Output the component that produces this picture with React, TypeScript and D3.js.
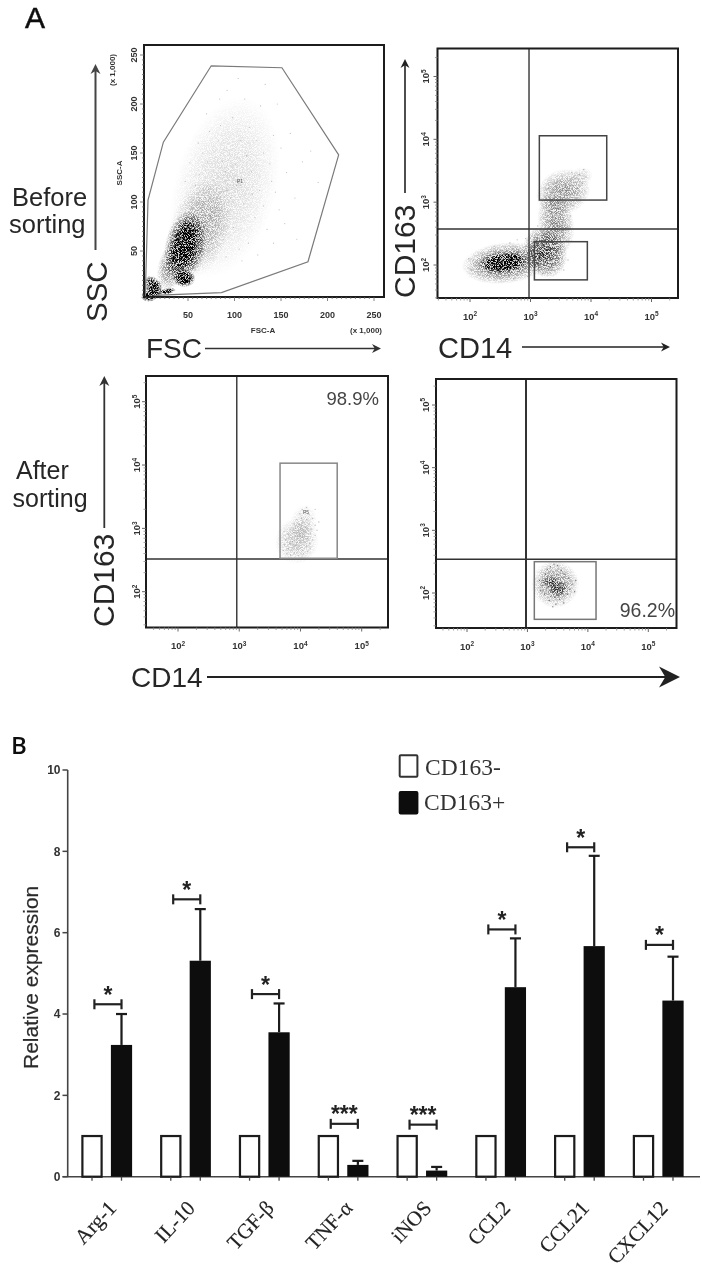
import React from "react";
import * as d3 from "d3";

// ---------- Panel B data ----------
const categories = ["Arg-1", "IL-10", "TGF-β", "TNF-α", "iNOS", "CCL2", "CCL21", "CXCL12"];
const cd163Neg = [1, 1, 1, 1, 1, 1, 1, 1];
const cd163Pos = [3.24, 5.31, 3.55, 0.29, 0.15, 4.66, 5.67, 4.33];
const cd163PosUpper = [4.0, 6.58, 4.26, 0.39, 0.24, 5.86, 7.89, 5.41];
const bracketLevel = [4.24, 6.82, 4.49, 1.3, 1.28, 6.08, 8.1, 5.7];
const stars = ["*", "*", "*", "***", "***", "*", "*", "*"];
const yTicksB = [0, 2, 4, 6, 8, 10];
const legendLabels = ["CD163-", "CD163+"];

// ---------- Panel A data ----------
const fscTicks = [50, 100, 150, 200, 250];
const sscTicks = [50, 100, 150, 200, 250];
const logDecades = [2, 3, 4, 5];
const p1Gate: [number, number][] = [[4, 3], [7, 102], [23.5, 161], [75, 239], [151, 237], [212, 148], [179, 39], [86, 7.5], [20, 5], [4, 3]];
// density blobs: cx, cy, rx, ry, rotation, strength
const p1Blobs = [
  [90, 115, 55, 95, 15, 0.1], [62, 72, 32, 52, 18, 0.2], [34, 36, 16, 28, 20, 0.38],
  [47, 55, 22, 36, 12, 0.8], [47, 58, 12, 24, 8, 1], [46, 22, 12, 9, 0, 1], [45, 22, 7, 5, 0, 0.9],
  [13, 13, 9, 13, -30, 1], [8, 4, 9, 6, 0, 1], [28, 9, 9, 3.2, -10, 1],
];
const p1Dots = [
  [62, 128], [71, 141], [58, 117], [83, 163], [66, 150], [77, 122], [90, 131], [95, 149], [69, 104], [81, 96], [74, 86], [92, 112], [103, 121], [110, 98], [118, 131], [127, 112],
  [85, 178], [98, 186], [73, 172], [61, 160], [107, 163], [116, 176], [131, 150], [140, 121], [148, 92], [122, 84], [135, 72], [99, 74], [88, 62], [105, 52], [78, 55], [115, 58],
  [142, 168], [156, 130], [165, 104], [173, 141], [128, 198], [111, 205], [92, 214], [104, 226], [84, 205], [70, 190], [52, 140], [47, 121], [56, 102], [64, 93], [72, 113], [87, 141],
  [96, 104], [83, 83], [76, 70], [68, 64], [94, 88], [101, 138], [113, 147], [124, 163], [138, 139], [150, 155], [160, 170], [119, 108], [131, 96], [144, 110], [154, 78], [167, 62],
  [142, 58], [125, 46], [108, 40], [91, 44], [190, 120], [182, 152], [146, 200], [133, 220], [104, 119], [106, 117], [102, 117], [105, 121],
];
const p2GateV = 945, p2GateH = 375;
const p2Rects = [[1400, 18200, 1080, 11400], [1160, 8700, 58, 235]];
const p2Blobs = [
  [2.58, 2.03, 0.72, 0.33, -6, 0.45], [2.55, 2.04, 0.4, 0.17, -6, 1], [3.24, 2.2, 0.36, 0.42, -20, 0.55],
  [3.42, 2.66, 0.3, 0.5, -10, 0.32], [3.54, 3.16, 0.46, 0.36, -20, 0.3], [3.85, 3.42, 0.18, 0.14, 0, 0.1],
];
const p2Dots = [
  [3.88, 3.52], [3.81, 3.44], [3.92, 3.4], [3.74, 3.38], [3.68, 3.47], [3.86, 3.3], [3.78, 3.22], [3.9, 3.18], [3.3, 3.22], [3.26, 3.05], [3.22, 2.9], [3.7, 2.95], [3.66, 2.78], [3.62, 2.6],
  [3.12, 2.62], [3.08, 2.48], [2.92, 2.42], [2.78, 2.4], [2.66, 2.35], [2.4, 2.3], [2.2, 2.18], [2.06, 2.02], [1.98, 2.1], [2.02, 1.92], [2.15, 1.84], [2.4, 1.8], [2.72, 1.78], [2.95, 1.82], [3.2, 1.86], [3.55, 1.92], [3.62, 2.08], [3.5, 2.22],
];
const p3GateV = 912, p3GateH = 329;
const p3Rect = [4640, 39800, 337, 10700];
const p3Blobs = [[3.94, 2.8, 0.36, 0.36, 10, 0.16], [4.05, 3.08, 0.22, 0.3, 10, 0.1]];
const p3Dots = [
  [3.78, 2.6], [3.84, 2.58], [3.9, 2.62], [3.97, 2.57], [4.05, 2.6], [4.12, 2.63], [3.72, 2.65], [3.8, 2.68], [3.88, 2.7], [3.95, 2.67], [4.02, 2.7], [4.1, 2.72], [4.16, 2.68], [3.74, 2.74],
  [3.83, 2.76], [3.92, 2.74], [3.99, 2.78], [4.07, 2.79], [4.15, 2.76], [3.76, 2.82], [3.85, 2.85], [3.94, 2.82], [4.03, 2.86], [4.12, 2.84], [4.2, 2.82], [3.8, 2.91], [3.89, 2.93], [3.98, 2.9],
  [4.06, 2.93], [4.16, 2.92], [4.24, 2.89], [3.83, 2.99], [3.92, 3.0], [4.0, 2.98], [4.09, 3.01], [4.18, 2.99], [4.27, 2.97], [3.9, 3.07], [3.98, 3.06], [4.06, 3.09], [4.14, 3.07], [4.24, 3.05],
  [3.94, 3.14], [4.02, 3.16], [4.1, 3.14], [4.2, 3.16], [3.99, 3.23], [4.08, 3.25], [4.14, 3.22], [4.03, 3.3], [4.1, 3.33], [4.24, 3.3], [3.73, 2.95], [4.3, 3.1], [3.96, 2.72], [4.0, 2.84], [3.87, 2.79], [4.04, 2.65],
];
const p4GateV = 946, p4GateH = 345;
const p4Rect = [1300, 13650, 38, 316];
const p4Blobs = [[3.46, 2.14, 0.4, 0.38, 0, 0.32], [3.52, 2.06, 0.17, 0.12, -15, 0.4], [3.38, 2.17, 0.16, 0.1, 10, 0.35]];
const p4Dots = [
  [3.2, 2.2], [3.24, 2.12], [3.22, 2.04], [3.28, 1.98], [3.3, 2.3], [3.33, 2.38], [3.36, 1.88], [3.38, 2.42], [3.42, 1.78], [3.44, 2.46], [3.47, 1.82], [3.5, 2.44], [3.53, 1.9], [3.56, 2.36],
  [3.6, 1.84], [3.62, 2.3], [3.66, 1.98], [3.68, 2.24], [3.7, 2.06], [3.74, 2.14], [3.78, 2.02], [3.8, 2.2], [3.29, 2.19], [3.3, 2.14], [3.27, 2.17], [3.33, 2.22], [3.36, 2.16], [3.35, 2.1], [3.4, 2.26],
  [3.43, 2.18], [3.45, 2.12], [3.47, 2.2], [3.5, 2.05], [3.52, 2.03], [3.54, 2.08], [3.49, 2.3], [3.56, 2.16], [3.59, 2.12], [3.58, 2.01], [3.42, 2.02], [3.39, 1.95], [3.45, 1.93], [3.51, 1.96],
];

// ---------- layout ----------
const SANS = "'Liberation Sans', Arial, sans-serif";
const SERIF = "'Liberation Serif', serif";

function Arrow({ x1, y1, x2, y2, color = "#222", w = 1.8, size = 8 }: any) {
  const a = Math.atan2(y2 - y1, x2 - x1);
  const deg = (a * 180) / Math.PI;
  return (
    <g>
      <line x1={x1} y1={y1} x2={x2 - Math.cos(a) * size * 0.6} y2={y2 - Math.sin(a) * size * 0.6} stroke={color} strokeWidth={w} />
      <path transform={`translate(${x2},${y2}) rotate(${deg})`} d={`M0,0 L${-size},${-size * 0.5} L${-size * 0.7},0 L${-size},${size * 0.5} Z`} fill={color} />
    </g>
  );
}

function Frame({ f, sw = 2 }: any) {
  return <rect x={f.x0} y={f.y0} width={f.x1 - f.x0} height={f.y1 - f.y0} fill="none" stroke="#1c1c1c" strokeWidth={sw} />;
}

function Blobs({ items, px, py, dx, dy }: any) {
  return (
    <g filter="url(#grain)">
      {items.map((b: number[], i: number) => (
        <ellipse key={i} cx={px(b[0])} cy={py(b[1])} rx={dx(b[2])} ry={dy(b[3])} transform={`rotate(${b[4]} ${px(b[0])} ${py(b[1])})`} fill="url(#fade)" opacity={b[5]} />
      ))}
    </g>
  );
}

function LogPlot({ f, xr, yr, gateV, gateH, gateW = 1.4, rects, rectColor, blobs, dots, dotColor, dotOp, yLab = -8 }: any) {
  const x = d3.scaleLog().domain([1e2, 1e5]).range(xr);
  const y = d3.scaleLog().domain([1e2, 1e5]).range(yr);
  const xd = (xr[1] - xr[0]) / 3, yd = (yr[0] - yr[1]) / 3;
  const minor: number[] = [];
  for (const e of [1, 2, 3, 4, 5]) for (const m of [2, 3, 4, 5, 6, 7, 8, 9]) minor.push(m * 10 ** e);
  const xMinor = minor.filter((v) => x(v) > f.x0 && x(v) < f.x1);
  const yMinor = minor.filter((v) => y(v) > f.y0 && y(v) < f.y1);
  return (
    <g>
      {blobs && <Blobs items={blobs} px={(l: number) => x(10 ** l)} py={(l: number) => y(10 ** l)} dx={(r: number) => r * xd} dy={(r: number) => r * yd} />}
      {dots.map((d: number[], i: number) => (
        <circle key={i} cx={x(10 ** d[0])} cy={y(10 ** d[1])} r={0.7} fill={dotColor} opacity={dotOp} />
      ))}
      <line x1={x(gateV)} x2={x(gateV)} y1={f.y0} y2={f.y1} stroke="#333" strokeWidth={gateW} />
      <line x1={f.x0} x2={f.x1} y1={y(gateH)} y2={y(gateH)} stroke="#333" strokeWidth={1.4} />
      {rects.map((r: number[], i: number) => (
        <rect key={i} x={x(r[0])} width={x(r[1]) - x(r[0])} y={y(r[3])} height={y(r[2]) - y(r[3])} fill="none" stroke={rectColor} strokeWidth={1.5} />
      ))}
      <Frame f={f} />
      {xMinor.map((v) => <line key={v} x1={x(v)} x2={x(v)} y1={f.y1} y2={f.y1 + 2.5} stroke="#888" strokeWidth={0.8} />)}
      {yMinor.map((v) => <line key={v} x1={f.x0} x2={f.x0 - 2.5} y1={y(v)} y2={y(v)} stroke="#888" strokeWidth={0.8} />)}
      {logDecades.map((e) => (
        <g key={e}>
          <line x1={x(10 ** e)} x2={x(10 ** e)} y1={f.y1} y2={f.y1 + 4} stroke="#666" />
          <line x1={f.x0} x2={f.x0 - 4} y1={y(10 ** e)} y2={y(10 ** e)} stroke="#666" />
          <text x={x(10 ** e)} y={f.y1 + 21.5} textAnchor="middle" fontFamily={SANS} fontWeight="bold" fontSize={9.5} fill="#333">
            10<tspan dy={-3.5} fontSize={6.5}>{e}</tspan>
          </text>
          <text transform={`translate(${f.x0 + yLab},${y(10 ** e)}) rotate(-90)`} textAnchor="middle" fontFamily={SANS} fontWeight="bold" fontSize={9.5} fill="#333">
            10<tspan dy={-3.5} fontSize={6.5}>{e}</tspan>
          </text>
        </g>
      ))}
    </g>
  );
}

function PanelA() {
  const f1 = { x0: 144, x1: 384, y0: 45, y1: 297 };
  const x1 = d3.scaleLinear().domain([0, 250]).range([141.5, 374]);
  const y1 = d3.scaleLinear().domain([0, 250]).range([300, 55]);
  const line = d3.line<[number, number]>().x((d) => x1(d[0])).y((d) => y1(d[1]));
  const minorLin = d3.range(5, 255, 5);
  const big = { fontFamily: SANS, fill: "#262626" } as const;
  return (
    <g filter="url(#soft)">
      <text x={25} y={28} fontFamily={SANS} fontSize={30} fill="#111" stroke="#111" strokeWidth={0.5}>A</text>

      <text x={12} y={206} fontSize={25.5} {...big}>Before</text>
      <text x={9} y={233} fontSize={25.5} {...big}>sorting</text>
      <text transform="translate(107,322) rotate(-90)" fontSize={29.5} {...big}>SSC</text>
      <Arrow x1={95.5} y1={250} x2={95.5} y2={64} color="#444" w={2} size={10} />
      <text x={146} y={358} fontSize={28} {...big}>FSC</text>
      <Arrow x1={205} y1={348.5} x2={381} y2={348.5} color="#333" w={1.6} size={9} />

      <Blobs items={p1Blobs} px={x1} py={y1} dx={(r: number) => r * 0.93} dy={(r: number) => r * 0.98} />
      {p1Dots.map((d, i) => <circle key={i} cx={x1(d[0])} cy={y1(d[1])} r={0.6} fill="#666" opacity={0.4} />)}
      <path d={line(p1Gate) as string} fill="none" stroke="#7a7a7a" strokeWidth={1.2} />
      <Frame f={f1} />
      {minorLin.filter((v) => x1(v) > f1.x0 && x1(v) < f1.x1).map((v) => <line key={v} x1={x1(v)} x2={x1(v)} y1={f1.y1} y2={f1.y1 + (v % 50 === 0 ? 4 : 2)} stroke="#666" strokeWidth={0.8} />)}
      {minorLin.filter((v) => y1(v) > f1.y0 && y1(v) < f1.y1).map((v) => <line key={v} x1={f1.x0} x2={f1.x0 - (v % 50 === 0 ? 4 : 2)} y1={y1(v)} y2={y1(v)} stroke="#666" strokeWidth={0.8} />)}
      {fscTicks.map((v) => <text key={v} x={x1(v)} y={318} textAnchor="middle" fontFamily={SANS} fontWeight="bold" fontSize={9} fill="#333">{v}</text>)}
      {sscTicks.map((v) => <text key={v} transform={`translate(137,${y1(v)}) rotate(-90)`} textAnchor="middle" fontFamily={SANS} fontWeight="bold" fontSize={9} fill="#333">{v}</text>)}
      <text x={263} y={333} textAnchor="middle" fontFamily={SANS} fontWeight="bold" fontSize={8} fill="#333">FSC-A</text>
      <text x={382} y={333} textAnchor="end" fontFamily={SANS} fontWeight="bold" fontSize={8} fill="#333">(x 1,000)</text>
      <text transform="translate(122,173) rotate(-90)" textAnchor="middle" fontFamily={SANS} fontWeight="bold" fontSize={8} fill="#333">SSC-A</text>
      <text transform="translate(115,70) rotate(-90)" textAnchor="middle" fontFamily={SANS} fontWeight="bold" fontSize={8} fill="#333">(x 1,000)</text>
      <text x={240} y={183} textAnchor="middle" fontFamily={SANS} fontSize={5} fill="#555">P1</text>

      <text transform="translate(415,298) rotate(-90)" fontSize={30} {...big}>CD163</text>
      <Arrow x1={405} y1={193} x2={405} y2={59} color="#222" w={1.6} size={9} />
      <text x={438} y={358} fontSize={29} {...big}>CD14</text>
      <Arrow x1={522} y1={347} x2={670} y2={347} color="#222" w={1.6} size={9} />
      <LogPlot f={{ x0: 437.5, x1: 678, y0: 48.5, y1: 298 }} xr={[470, 651.5]} yr={[265, 76.5]} gateV={p2GateV} gateH={p2GateH} rects={p2Rects} rectColor="#444" blobs={p2Blobs} dots={p2Dots} dotColor="#777" dotOp={0.5} yLab={-8.5} />

      <text x={16} y={479} fontSize={25} {...big}>After</text>
      <text x={12.5} y={507} fontSize={25} {...big}>sorting</text>
      <text transform="translate(114,627) rotate(-90)" fontSize={30} {...big}>CD163</text>
      <Arrow x1={104.3} y1={528} x2={104.3} y2={376} color="#333" w={1.8} size={10} />
      <LogPlot f={{ x0: 146, x1: 388, y0: 376, y1: 627.5 }} xr={[178, 361.7]} yr={[591.7, 401.7]} gateV={p3GateV} gateH={p3GateH} rects={[p3Rect]} rectColor="#888" blobs={p3Blobs} dots={p3Dots} dotColor="#888" dotOp={0.5} yLab={-6} />
      <text x={306} y={514} textAnchor="middle" fontFamily={SANS} fontSize={5} fill="#555">P5</text>
      <text x={379} y={405} textAnchor="end" fontFamily={SANS} fontSize={18.5} fill="#444">98.9%</text>

      <LogPlot f={{ x0: 436, x1: 676.5, y0: 379, y1: 628 }} xr={[467, 648.3]} yr={[593, 405]} gateV={p4GateV} gateH={p4GateH} gateW={2} rects={[p4Rect]} rectColor="#777" blobs={p4Blobs} dots={p4Dots} dotColor="#333" dotOp={0.6} yLab={-7.5} />
      <text x={675} y={616.5} textAnchor="end" fontFamily={SANS} fontSize={19.5} fill="#444">96.2%</text>

      <text x={131} y={687} fontSize={28} {...big}>CD14</text>
      <Arrow x1={207} y1={677} x2={680} y2={677} color="#222" w={1.8} size={21} />
    </g>
  );
}

function PanelB() {
  const y = d3.scaleLinear().domain([0, 10]).range([1176.7, 770]);
  const xc = d3.scalePoint<string>().domain(categories).range([106.75, 658.25]);
  const off = 14.75, bw = 19.2, axisX = 67.7;
  return (
    <g filter="url(#soft)">
      <text x={11} y={754} fontFamily="'Open Sans', sans-serif" fontWeight={600} fontSize={24} fill="#111">B</text>
      <line x1={axisX} x2={axisX} y1={y(10)} y2={y(0)} stroke="#444" strokeWidth={1.6} />
      <line x1={62.5} x2={700} y1={y(0)} y2={y(0)} stroke="#444" strokeWidth={1.6} />
      {yTicksB.map((t) => (
        <g key={t}>
          <line x1={62.5} x2={axisX} y1={y(t)} y2={y(t)} stroke="#444" strokeWidth={1.5} />
          <text x={60.5} y={y(t) + 4.3} textAnchor="end" fontFamily={SANS} fontWeight="bold" fontSize={12} fill="#333">{t}</text>
        </g>
      ))}
      <text transform="translate(37.5,1069) rotate(-90)" fontFamily={SANS} fontSize={21} fill="#2a2a2a" stroke="#2a2a2a" strokeWidth={0.2}>Relative expression</text>

      {categories.map((c, i) => {
        const cx = xc(c) as number;
        const a = cx - off, b = cx + off;
        return (
          <g key={c}>
            <rect x={a - bw / 2} width={bw} y={y(cd163Neg[i])} height={y(0) - y(cd163Neg[i])} fill="#fff" stroke="#1c1c1c" strokeWidth={2.2} />
            <rect x={b - bw / 2 - 1} width={bw + 2} y={y(cd163Pos[i])} height={y(0) - y(cd163Pos[i])} fill="#0a0a0a" />
            <line x1={b} x2={b} y1={y(cd163Pos[i])} y2={y(cd163PosUpper[i])} stroke="#1a1a1a" strokeWidth={2.2} />
            <line x1={b - 5.5} x2={b + 5.5} y1={y(cd163PosUpper[i])} y2={y(cd163PosUpper[i])} stroke="#1a1a1a" strokeWidth={2.2} />
            <line x1={a} x2={a} y1={y(0)} y2={y(0) + 4} stroke="#444" strokeWidth={1.3} />
            <line x1={b} x2={b} y1={y(0)} y2={y(0) + 4} stroke="#444" strokeWidth={1.3} />
            <g stroke="#222" strokeWidth={2.2}>
              <line x1={a + 2.4} x2={b} y1={y(bracketLevel[i])} y2={y(bracketLevel[i])} />
              <line x1={a + 2.4} x2={a + 2.4} y1={y(bracketLevel[i]) - 5} y2={y(bracketLevel[i]) + 5} />
              <line x1={b} x2={b} y1={y(bracketLevel[i]) - 5} y2={y(bracketLevel[i]) + 5} />
            </g>
            <text x={(a + 2.4 + b) / 2} y={y(bracketLevel[i]) - 1.5} textAnchor="middle" fontFamily={SANS} fontWeight="bold" fontSize={23} fill="#222">{stars[i]}</text>
            <text transform={`translate(${b - 4},1209) rotate(-47)`} textAnchor="end" fontFamily={SERIF} fontSize={21} fill="#222" stroke="#222" strokeWidth={0.15}>{c}</text>
          </g>
        );
      })}

      {legendLabels.map((l, i) => (
        <g key={l}>
          <rect x={399.7} y={i === 0 ? 755.3 : 792} width={17.7} height={21.5} rx={1} fill={i === 0 ? "#fff" : "#0a0a0a"} stroke={i === 0 ? "#333" : "#0a0a0a"} strokeWidth={2} />
          <text x={i === 0 ? 425 : 424} y={i === 0 ? 774.5 : 810} fontFamily={SERIF} fontSize={23.5} fill="#333">{l}</text>
        </g>
      ))}
    </g>
  );
}

export default function App() {
  return (
    <svg width={702} height={1282} viewBox="0 0 702 1282" style={{ position: "absolute", left: 0, top: 0, background: "#fff" }}>
      <defs>
        <radialGradient id="fade">
          <stop offset="0" stopColor="#000" stopOpacity={1} />
          <stop offset="0.55" stopColor="#000" stopOpacity={0.6} />
          <stop offset="1" stopColor="#000" stopOpacity={0} />
        </radialGradient>
        <filter id="grain" x="-25%" y="-25%" width="150%" height="150%" colorInterpolationFilters="sRGB">
          <feTurbulence type="fractalNoise" baseFrequency="1.4" numOctaves="1" seed="7" result="n" />
          <feColorMatrix in="n" type="matrix" values="0 0 0 0 0  0 0 0 0 0  0 0 0 0 0  4.5 0 0 0 -1.7" result="d" />
          <feComposite in="SourceGraphic" in2="d" operator="arithmetic" k1="1.5" k2="0.18" k3="0" k4="0" />
        </filter>
        <filter id="soft" x="-2%" y="-2%" width="104%" height="104%">
          <feGaussianBlur stdDeviation="0.45" />
        </filter>
      </defs>
      <PanelA />
      <PanelB />
    </svg>
  );
}
